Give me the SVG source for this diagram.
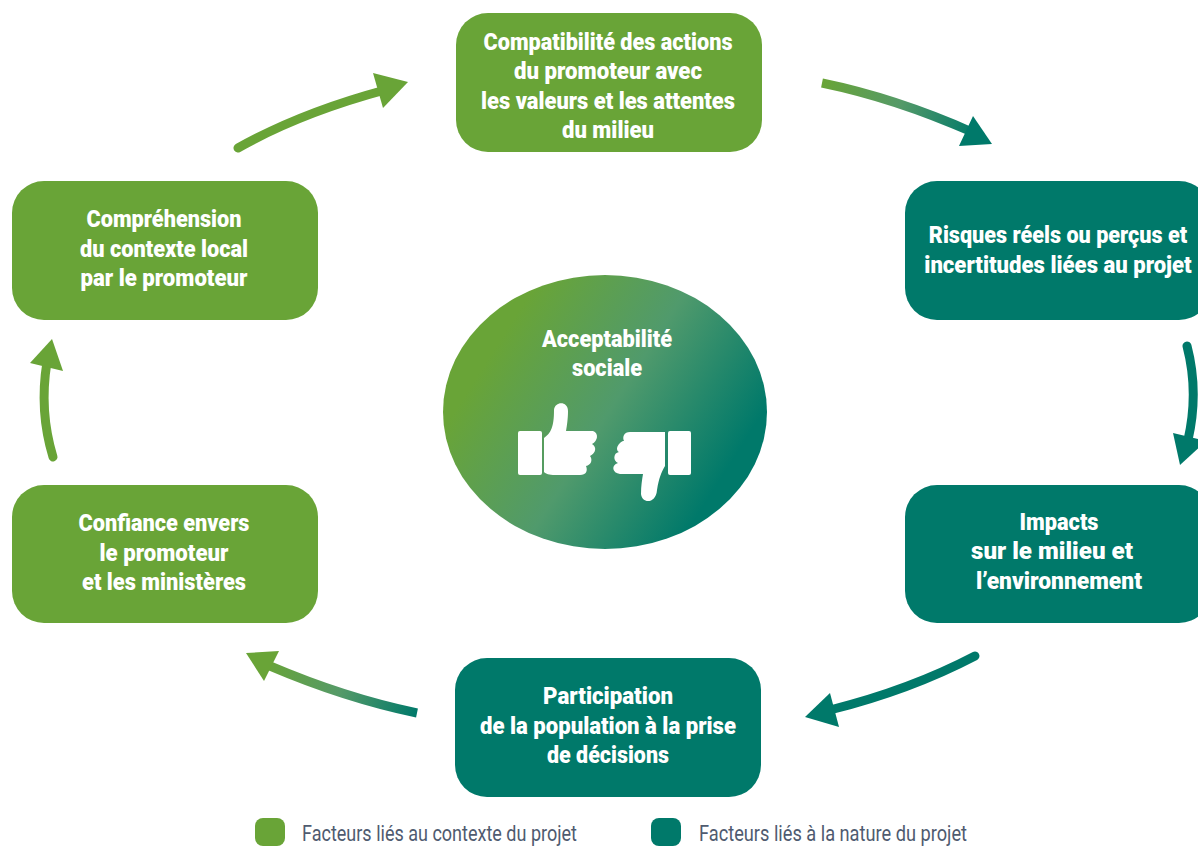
<svg xmlns="http://www.w3.org/2000/svg" width="1198" height="846" viewBox="0 0 1198 846">
<style>
.g{fill:#69a437}.t{fill:#00796a}
.b{font-family:"Roboto","Liberation Sans",sans-serif;font-weight:900;font-size:23px;fill:#fff;text-anchor:middle}
.l{font-family:"Roboto","Liberation Sans",sans-serif;font-size:22px;fill:#4f5b70}
.s{fill:none;stroke-width:9}
</style>
<defs>
<linearGradient id="e" gradientUnits="userSpaceOnUse" x1="500" y1="340" x2="720" y2="480"><stop offset="0" stop-color="#69a437"/><stop offset=".5" stop-color="#509a6c"/><stop offset="1" stop-color="#00796a"/></linearGradient>
<linearGradient id="a2" gradientUnits="userSpaceOnUse" x1="822" y1="83" x2="975" y2="135"><stop offset="0" stop-color="#69a437"/><stop offset=".5" stop-color="#559a68"/><stop offset="1" stop-color="#00796a"/></linearGradient>
<linearGradient id="a5" gradientUnits="userSpaceOnUse" x1="417" y1="713" x2="265" y2="662"><stop offset="0" stop-color="#00796a"/><stop offset=".5" stop-color="#559a68"/><stop offset="1" stop-color="#69a437"/></linearGradient>
</defs>
<g id="connectors">
<path class="s" stroke="#69a437" stroke-linecap="round" d="M238 148Q300 113 385 90"/><path class="g" d="M408 82L373 73L383 108Z"/>
<path class="s" stroke="url(#a2)" d="M822 83Q895 98 972 132"/><path fill="#00796a" d="M992 144L973 116L959 146Z"/>
<path class="s" stroke="#00796a" stroke-linecap="round" d="M1187 346Q1199 392 1188 440"/><path class="t" d="M1180 465L1173 433L1206 441Z"/>
<path class="s" stroke="#00796a" stroke-linecap="round" d="M975 656Q910 690 830 710"/><path class="t" d="M805 717L830 693L839 727Z"/>
<path class="s" stroke="url(#a5)" d="M417 713Q345 698 270 666"/><path fill="#69a437" d="M246 653L279 651L264 681Z"/>
<path class="s" stroke="#69a437" stroke-linecap="round" d="M53 457Q39 411 47 362"/><path class="g" d="M52 339L30 363L63 371Z"/>
</g>
<g id="n1"><rect class="g" x="456" y="13" width="306" height="139" rx="32"/>
<text class="b"><tspan x="608" y="50" textLength="249" lengthAdjust="spacingAndGlyphs">Compatibilité des actions</tspan><tspan x="608" y="79" textLength="188" lengthAdjust="spacingAndGlyphs">du promoteur avec</tspan><tspan x="608" y="109" textLength="254" lengthAdjust="spacingAndGlyphs">les valeurs et les attentes</tspan><tspan x="608" y="138" textLength="92" lengthAdjust="spacingAndGlyphs">du milieu</tspan></text></g>
<g id="n2"><rect class="t" x="905" y="181" width="306" height="139" rx="32"/>
<text class="b" transform="translate(1058 243) scale(.94 1)" x="0" y="0">Risques réels ou perçus et</text>
<text class="b" transform="translate(1058 273) scale(.962 1)" x="0" y="0">incertitudes liées au projet</text></g>
<g id="n3"><rect class="t" x="905" y="485" width="306" height="138" rx="32"/>
<text class="b"><tspan x="1059" y="530" textLength="79" lengthAdjust="spacingAndGlyphs">Impacts</tspan><tspan x="1052" y="559" textLength="162" lengthAdjust="spacingAndGlyphs">sur le milieu et</tspan><tspan x="1059" y="589" textLength="166" lengthAdjust="spacingAndGlyphs">l’environnement</tspan></text></g>
<g id="n4"><rect class="t" x="455" y="658" width="306" height="139" rx="32"/>
<text class="b"><tspan x="608" y="704" textLength="130" lengthAdjust="spacingAndGlyphs">Participation</tspan><tspan x="608" y="734" textLength="256" lengthAdjust="spacingAndGlyphs">de la population à la prise</tspan><tspan x="608" y="763" textLength="122" lengthAdjust="spacingAndGlyphs">de décisions</tspan></text></g>
<g id="n5"><rect class="g" x="12" y="485" width="306" height="138" rx="32"/>
<text class="b"><tspan x="164" y="531" textLength="171" lengthAdjust="spacingAndGlyphs">Confiance envers</tspan><tspan x="164" y="561" textLength="129" lengthAdjust="spacingAndGlyphs">le promoteur</tspan><tspan x="164" y="590" textLength="164" lengthAdjust="spacingAndGlyphs">et les ministères</tspan></text></g>
<g id="n6"><rect class="g" x="12" y="181" width="306" height="139" rx="32"/>
<text class="b"><tspan x="164" y="227" textLength="155" lengthAdjust="spacingAndGlyphs">Compréhension</tspan><tspan x="164" y="257" textLength="168" lengthAdjust="spacingAndGlyphs">du contexte local</tspan><tspan x="164" y="286" textLength="167" lengthAdjust="spacingAndGlyphs">par le promoteur</tspan></text></g>
<g id="center"><ellipse cx="605" cy="412" rx="162" ry="137" fill="url(#e)"/>
<text class="b"><tspan x="607" y="347" textLength="130" lengthAdjust="spacingAndGlyphs">Acceptabilité</tspan><tspan x="607" y="376" textLength="70" lengthAdjust="spacingAndGlyphs">sociale</tspan></text>
<g fill="#fff"><rect x="518" y="431" width="24" height="44" rx="2"/>
<path d="M544 438C551 433 554 427 554 410C555 401 568 401 568 411C568 418 567 426 566 431L593 431C599 433 598 441 592 444C597 447 596 453 590 456C593 460 591 465 586 466C588 471 586 475 580 475L555 475C549 475 546 474 544 472Z"/>
<rect x="668" y="431" width="23" height="44" rx="2"/>
<path d="M665 432L665 466C661 473 659 478 657 490C656 504 642 504 641 494C641 486 642 480 643 474L620 474C612 473 611 465 618 463C613 461 613 453 619 452C614 449 620 441 624 441C622 437 624 432 630 432Z"/></g></g>
<g id="legend"><rect class="g" x="255" y="818" width="30" height="28" rx="8"/><text class="l" x="302" y="841" textLength="275" lengthAdjust="spacingAndGlyphs">Facteurs liés au contexte du projet</text>
<rect class="t" x="651" y="818" width="30" height="28" rx="8"/><text class="l" x="699" y="841" textLength="268" lengthAdjust="spacingAndGlyphs">Facteurs liés à la nature du projet</text></g>
</svg>
